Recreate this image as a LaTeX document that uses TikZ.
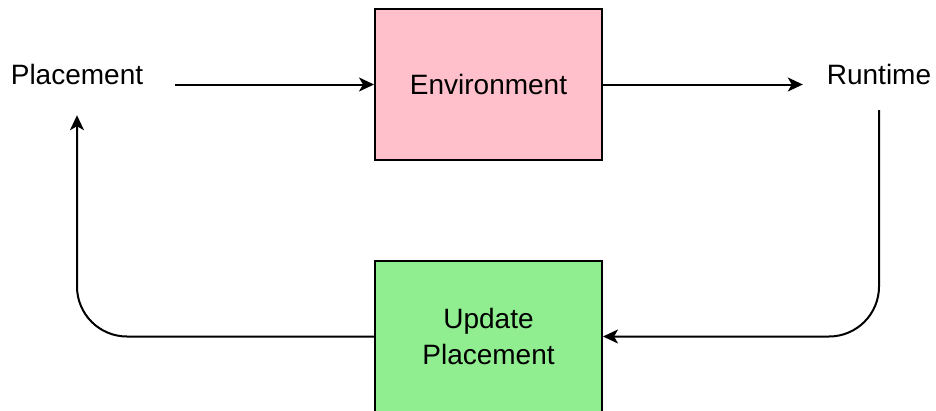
\documentclass[tikz,border=0pt]{standalone}
\usepackage{fontspec}
\setmainfont{Liberation Sans}
\usetikzlibrary{arrows.meta}
\definecolor{envpink}{HTML}{FFC0CB}
\definecolor{updgreen}{HTML}{90EE90}
\begin{document}
\begin{tikzpicture}[x=1pt,y=-1pt,
  font=\fontsize{28}{34}\selectfont,
  block/.style={draw=black, line width=2pt, minimum width=227pt, minimum height=151pt, inner sep=0pt, align=center},
  label/.style={anchor=base, inner sep=0pt, text height=21pt},
  conn/.style={draw=black, line width=2pt, -{Stealth[length=15pt,width=14pt,inset=4pt]}}]
  \useasboundingbox (0,0) rectangle (936,410);
  % boxes
  \node[block, fill=envpink] (env) at (488.5,84.5) {Environment};
  \node[block, fill=updgreen] (upd) at (488.5,336.5) {Update\\[2pt]Placement};
  % plain labels (their boxes set where the connectors start and end)
  \node[label, text depth=31pt, minimum width=196pt] (plc) at (77,84) {Placement};
  \node[label, text depth=26pt, minimum width=152pt] (rt) at (879,84) {Runtime};
  % connectors
  \draw[conn] (plc.east |- env.west) -- (env.west);
  \draw[conn] (env.east) -- (env.east -| rt.west);
  \draw[conn, rounded corners=50pt] (rt.south) |- (upd.east);
  \draw[conn, rounded corners=50pt] (upd.west) -| (plc.south);
\end{tikzpicture}
\end{document}
